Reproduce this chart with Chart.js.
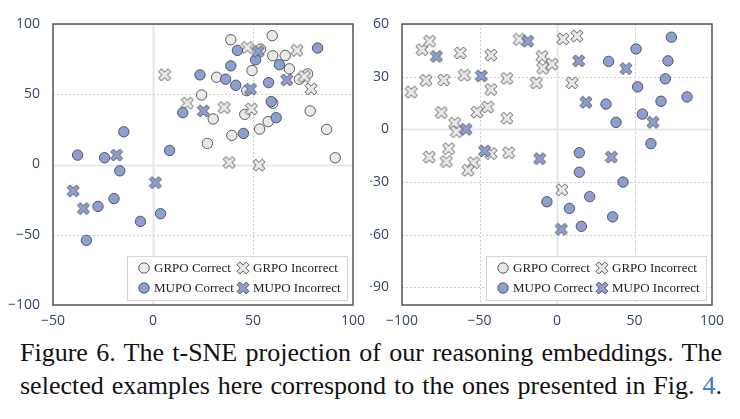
<!DOCTYPE html>
<html>
<head>
<meta charset="utf-8">
<script src="https://cdn.jsdelivr.net/npm/chart.js@4.4.1/dist/chart.umd.min.js"></script>
<style>
  body { margin: 0; background: #fff; width: 740px; height: 419px; position: relative; overflow: hidden; }
  #left { position: absolute; left: 0; top: 0; }
  #right { position: absolute; left: 370px; top: 0; }
  #caption {
    position: absolute; left: 20px; top: 336px; width: 702px;
    font-family: 'Liberation Serif', Tinos, 'Times New Roman', Times, serif; font-size: 26px; line-height: 33px;
    color: #111; text-align: justify; text-align-last: justify;
  }
  #caption .ref { color: #3d78c6; }
</style>
</head>
<body>
<canvas id="left" width="370" height="330"></canvas>
<canvas id="right" width="370" height="330"></canvas>
<div id="caption">Figure 6. The t-SNE projection of our reasoning embeddings. The selected examples here correspond to the ones presented in Fig. <span class="ref">4</span>.</div>
<script>
// ---- data ----
const seriesNames = ['GRPO Correct', 'GRPO Incorrect', 'MUPO Correct', 'MUPO Incorrect'];

// left panel
const leftGrpoCorrect = [
  [38.9, 88.8], [59.6, 91.7], [49.5, 66.9], [59.9, 77.4], [66.1, 77.6], [68.2, 68.1],
  [31.8, 62.1], [24.3, 49.5], [30.1, 32.4], [27.2, 15], [39.4, 20.7], [45.9, 35.7],
  [46.9, 52.6], [53.3, 25.2], [57.6, 30.5], [59.9, 43.6], [73.2, 60.7], [77.3, 64.5],
  [78.6, 38.1], [86.8, 25], [91.1, 4.8], [53.8, 82.1]
];
const leftGrpoIncorrect = [
  [5.8, 63.8], [47.2, 83.3], [72, 81.2], [17.2, 43.6], [35.6, 40.5], [49.2, 39.5],
  [75.7, 62.6], [79, 53.8], [38.1, 1.4], [53, -0.5]
];
const leftMupoCorrect = [
  [42.2, 81.2], [82.3, 82.9], [51.3, 74.5], [38.9, 70.2], [63.2, 71], [23.5, 63.8],
  [36.3, 60.7], [41.4, 56.4], [57.8, 58.3], [59.1, 44.8], [14.9, 36.9], [61.6, 33.3],
  [45.2, 22.1], [8.3, 10], [-14.6, 23.3], [-37.7, 6.7], [-24.2, 4.8], [-16.6, -4.5],
  [-27.5, -29.8], [-19.5, -24.3], [-33.3, -54], [-6.3, -40.5], [3.8, -35]
];
const leftMupoIncorrect = [
  [52.6, 80.5], [66.9, 60.2], [48.8, 53.6], [25.2, 38.1], [-18.2, 6.7],
  [-39.9, -18.8], [-34.8, -31.4], [1.2, -12.9]
];

// right panel
const rightGrpoCorrect = [];
const rightGrpoIncorrect = [
  [-94, 21.2], [-87.1, 45.4], [-82.2, 50.2], [-84.5, 27.9], [-73.1, 28.1], [-74.6, 9.6],
  [-62.4, 43.5], [-59.8, 30.8], [-42.6, 42.3], [-42.6, 22.7], [-51.6, 9.8], [-44.7, 12.7],
  [-32.3, 6.3], [-66, 3.5], [-64.9, -1.3], [-32.3, 29], [-24.3, 51.2], [-9.7, 41.5],
  [-9.2, 34.8], [-3.2, 37.1], [-13.3, 26.5], [3.9, 51.5], [12.9, 53.1], [9.7, 26.5],
  [-69.9, -11], [-82.4, -15.8], [-71.4, -18.3], [-42.6, -13.8], [-31.2, -13.3],
  [-53.8, -19], [-57.4, -23.3], [3.2, -34.4]
];
const rightMupoCorrect = [
  [73.8, 52.5], [51, 45.8], [33.3, 38.7], [71.6, 39], [69.9, 28.8], [52, 24.2],
  [83.9, 18.5], [67.1, 16], [31.6, 14.4], [55.1, 8.7], [38.1, 4], [60.6, -8.1],
  [14.4, -13.3], [14.4, -24.4], [42.6, -30], [21.1, -38.3], [-6.5, -41.2], [8, -45],
  [35.9, -49.8], [15.7, -55.2]
];
const rightMupoIncorrect = [
  [-77.8, 41.5], [-48.8, 30.4], [-18.9, 50.2], [14, 39], [44.5, 34.6], [18.7, 15.4],
  [61.9, 4], [-58.7, 0], [-46.7, -12.3], [-11.2, -16.7], [35.1, -15.8], [2.8, -56.9]
];

const leftXTicks = [-50, 0, 50, 100];
const leftYTicks = [-100, -50, 0, 50, 100];
const rightXTicks = [-100, -50, 0, 50, 100];
const rightYTicks = [-90, -60, -30, 0, 30, 60];

// ---- styles ----
const lightFill = '#e9e9e9';
const blueFill = '#8b9fd2';
const edgeColor = '#4a4a4a';
const tickColor = '#34466e';
const serif = "'Liberation Serif', Tinos, 'Times New Roman', Times, serif";

// thick "X" marker drawn into a small canvas, used as pointStyle
function makeCross(fill, size) {
  const c = document.createElement('canvas');
  c.width = size; c.height = size;
  const g = c.getContext('2d');
  const a = 0.3, s = (size / 2 - 1) * Math.SQRT2 / (1 + a);
  const pts = [[a,1],[a,a],[1,a],[1,-a],[a,-a],[a,-1],[-a,-1],[-a,-a],[-1,-a],[-1,a],[-a,a],[-a,1]];
  g.translate(size / 2, size / 2);
  g.beginPath();
  pts.forEach(([x, y], i) => {
    const px = (x - y) / Math.SQRT2 * s, py = (x + y) / Math.SQRT2 * s;
    if (i === 0) g.moveTo(px, py); else g.lineTo(px, py);
  });
  g.closePath();
  g.fillStyle = fill;
  g.fill();
  g.lineWidth = 0.9;
  g.strokeStyle = edgeColor;
  g.stroke();
  return c;
}
const lightCross = makeCross(lightFill, 14);
const blueCross = makeCross(blueFill, 14);

function toPoints(arr) {
  return arr.map(p => ({ x: p[0], y: p[1] }));
}

function makeDatasets(gc, gi, mc, mi) {
  return [
    { label: seriesNames[0], data: toPoints(gc), pointStyle: 'circle', pointRadius: 5.2,
      backgroundColor: lightFill, borderColor: edgeColor, borderWidth: 0.9, order: 4 },
    { label: seriesNames[1], data: toPoints(gi), pointStyle: lightCross, pointRadius: 7,
      backgroundColor: lightFill, borderColor: edgeColor, order: 3 },
    { label: seriesNames[2], data: toPoints(mc), pointStyle: 'circle', pointRadius: 5.2,
      backgroundColor: blueFill, borderColor: edgeColor, borderWidth: 0.9, order: 2 },
    { label: seriesNames[3], data: toPoints(mi), pointStyle: blueCross, pointRadius: 7,
      backgroundColor: blueFill, borderColor: edgeColor, order: 1 }
  ];
}

// grid (dotted, solid at zero), frame and in-plot legend
const framePlugin = {
  id: 'frame',
  beforeDatasetsDraw(chart) {
    const { ctx, chartArea: a, scales } = chart;
    ctx.save();
    ctx.beginPath();
    ctx.rect(a.left, a.top, a.right - a.left, a.bottom - a.top);
    ctx.clip();
    const lines = [];
    scales.x.ticks.forEach(t => lines.push(['x', t.value]));
    scales.y.ticks.forEach(t => lines.push(['y', t.value]));
    lines.forEach(([axis, v]) => {
      const zero = v === 0;
      ctx.beginPath();
      if (zero) { ctx.setLineDash([]); ctx.strokeStyle = '#e6e6ef'; ctx.lineWidth = 2; }
      else { ctx.setLineDash([2, 2]); ctx.strokeStyle = '#cfcfcf'; ctx.lineWidth = 1; }
      if (axis === 'x') {
        const px = Math.round(scales.x.getPixelForValue(v)) + 0.5;
        ctx.moveTo(px, a.top); ctx.lineTo(px, a.bottom);
      } else {
        const py = Math.round(scales.y.getPixelForValue(v)) + 0.5;
        ctx.moveTo(a.left, py); ctx.lineTo(a.right, py);
      }
      ctx.stroke();
    });
    ctx.restore();
  },
  afterDatasetsDraw(chart, args, opts) {
    const { ctx, chartArea: a } = chart;
    ctx.save();
    // legend box
    const lx = opts.legendX, ly = a.bottom - 49, lw = 220, lh = 44;
    ctx.fillStyle = 'rgba(255,255,255,0.92)';
    ctx.strokeStyle = '#d6d6d6';
    ctx.lineWidth = 1;
    ctx.fillRect(lx, ly, lw, lh);
    ctx.strokeRect(lx + 0.5, ly + 0.5, lw, lh);
    ctx.font = '13px ' + serif;
    ctx.textBaseline = 'middle';
    chart.data.datasets.forEach((ds, i) => {
      const col = i % 2, row = Math.floor(i / 2);
      const mx = lx + 17 + col * 99, my = ly + 12 + row * 20;
      if (ds.pointStyle === 'circle') {
        ctx.beginPath();
        ctx.arc(mx, my, 5.2, 0, Math.PI * 2);
        ctx.fillStyle = ds.backgroundColor; ctx.fill();
        ctx.strokeStyle = edgeColor; ctx.lineWidth = 0.9; ctx.stroke();
      } else {
        Chart.helpers.drawPoint(ctx, { pointStyle: ds.pointStyle, radius: 7, rotation: 0, borderWidth: 0 }, mx, my);
      }
      ctx.fillStyle = '#222';
      ctx.fillText(ds.label, mx + 10, my + 0.5);
    });
    // frame
    ctx.strokeStyle = '#555';
    ctx.lineWidth = 1.5;
    ctx.strokeRect(a.left, a.top, a.right - a.left, a.bottom - a.top);
    ctx.restore();
  }
};

function fmt(v) {
  return v < 0 ? '\u2212' + Math.abs(v) : String(v);
}

function buildChart(id, datasets, xr, yr, xTicks, yTicks, yWidth, padRight, legendX) {
  return new Chart(document.getElementById(id), {
    type: 'scatter',
    data: { datasets: datasets },
    options: {
      responsive: false,
      animation: false,
      layout: { padding: { left: 0, right: padRight, top: 24, bottom: 0 } },
      plugins: {
        legend: { display: false },
        tooltip: { enabled: false },
        frame: { legendX: legendX }
      },
      scales: {
        x: {
          type: 'linear', min: xr[0], max: xr[1],
          afterBuildTicks: s => { s.ticks = xTicks.map(v => ({ value: v })); },
          afterFit: s => { s.height = 25; },
          grid: { display: false },
          border: { display: false },
          ticks: { color: tickColor, padding: 0, maxRotation: 0,
                   font: { family: '"Open Sans", sans-serif', size: 14 }, callback: fmt }
        },
        y: {
          type: 'linear', min: yr[0], max: yr[1],
          afterBuildTicks: s => { s.ticks = yTicks.map(v => ({ value: v })); },
          afterFit: s => { s.width = yWidth; },
          grid: { display: false },
          border: { display: false },
          ticks: { color: tickColor, padding: 5,
                   font: { family: '"Open Sans", sans-serif', size: 14 }, callback: fmt }
        }
      }
    },
    plugins: [framePlugin]
  });
}

buildChart('left', makeDatasets(leftGrpoCorrect, leftGrpoIncorrect, leftMupoCorrect, leftMupoIncorrect),
  [-50, 100], [-100, 100], leftXTicks, leftYTicks, 53, 17, 127);
buildChart('right', makeDatasets(rightGrpoCorrect, rightGrpoIncorrect, rightMupoCorrect, rightMupoIncorrect),
  [-100, 100], [-100, 60], rightXTicks, rightYTicks, 32, 28, 116);
</script>
</body>
</html>
